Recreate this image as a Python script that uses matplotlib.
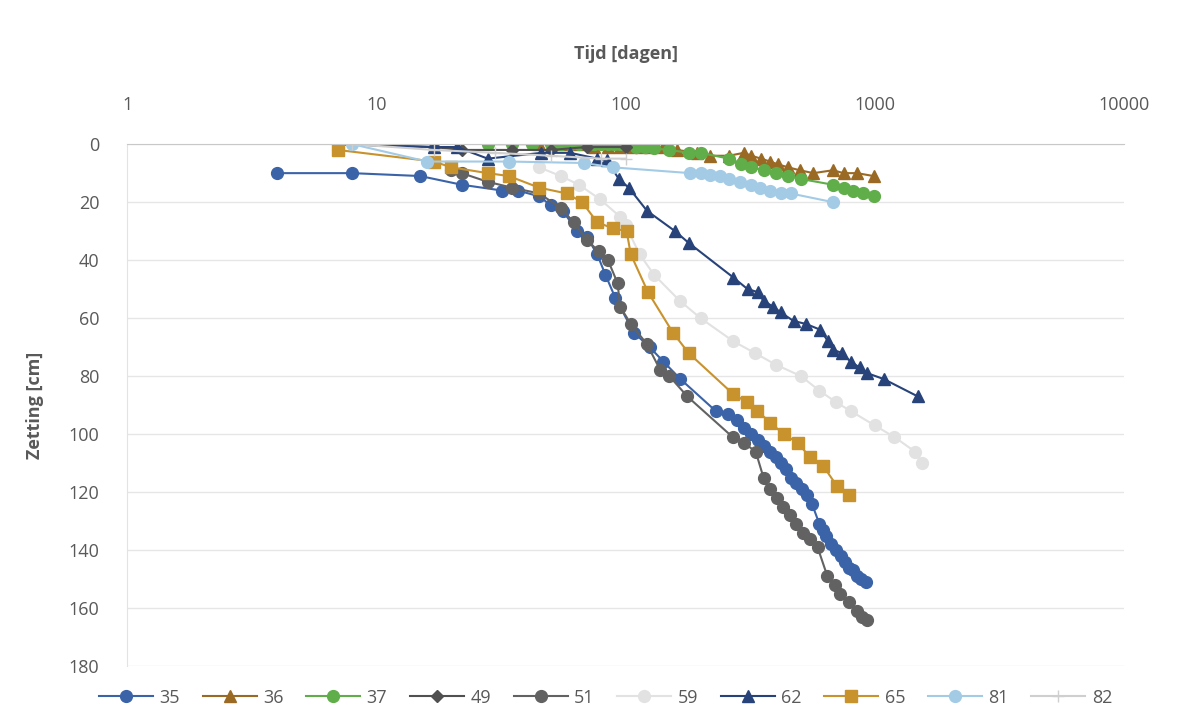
import matplotlib.pyplot as plt
from matplotlib.ticker import FixedLocator, FixedFormatter

plt.rcParams['font.family'] = ['Open Sans', 'DejaVu Sans']

# Zetting [cm] per meetpunt tegen tijd [dagen]
t35 = [4, 8, 15, 22, 32, 37, 45, 50, 56, 64, 70, 77, 83, 91, 108, 125, 142, 166, 230, 257, 280,
       300, 320, 340, 360, 380, 400, 420, 440, 460, 485, 510, 535, 560, 600, 620, 640, 670, 700,
       730, 760, 790, 820, 850, 880, 920]
z35 = [10, 10, 11, 14, 16, 16, 18, 21, 23, 30, 32, 38, 45, 53, 65, 70, 75, 81, 92, 93, 95,
       98, 100, 102, 104, 106, 108, 110, 112, 115, 117, 119, 121, 124, 131, 133, 135, 138, 140,
       142, 144, 146, 147, 149, 150, 151]

t36 = [45, 55, 65, 75, 85, 95, 105, 115, 125, 142, 161, 194, 218, 260, 298, 320, 350, 380, 410,
       450, 500, 568, 680, 750, 850, 990]
z36 = [0, 0, 0, 1, 1, 1, 1, 1, 1, 1, 2, 3, 4, 4, 3, 4, 5, 6, 7, 8, 9, 10, 9, 10, 10, 11]

t37 = [28, 35, 42, 50, 55, 60, 65, 70, 75, 80, 85, 90, 95, 100, 110, 120, 130, 150, 180, 200,
       260, 290, 320, 360, 400, 450, 505, 680, 750, 820, 900, 990]
z37 = [0, 0, 0, 0, 0, 0, 0, 0, 0, 0, 0, 0, 0, 0, 1, 1, 1.5, 2, 3, 3, 5, 7, 8, 9, 10, 11, 12,
       14, 15, 16, 17, 18]

t49 = [7, 17, 22, 35, 50, 70, 100]
z49 = [0, 1, 2, 2, 2, 1, 1]

t51 = [20, 22, 28, 35, 45, 55, 62, 70, 78, 85, 93, 95, 105, 122, 138, 150, 177, 269, 298, 333,
       358, 380, 407, 430, 457, 485, 518, 550, 590, 646, 690, 727, 790, 850, 890, 935]
z51 = [9, 10, 13, 15, 17, 22, 27, 33, 37, 40, 48, 56, 62, 69, 78, 80, 87, 101, 103, 106, 115,
       119, 122, 125, 128, 131, 134, 136, 139, 149, 152, 155, 158, 161, 163, 164]

t59 = [45, 55, 65, 79, 95, 100, 114, 130, 165, 200, 271, 330, 400, 506, 600, 700, 800, 1000,
       1200, 1450, 1550]
z59 = [8, 11, 14, 19, 25, 28, 38, 45, 54, 60, 68, 72, 76, 80, 85, 89, 92, 97, 101, 106, 110]

t62 = [7, 17, 21, 28, 46, 60, 77, 84, 94, 103, 122, 158, 179, 271, 309, 339, 358, 390, 419, 473,
       530, 605, 650, 683, 740, 800, 870, 935, 1087, 1490]
z62 = [0, 1, 1, 5, 3, 3, 5, 5.5, 12, 15, 23, 30, 34, 46, 50, 51, 54, 56, 58, 61, 62, 64, 68,
       71, 72, 75, 77, 79, 81, 87]

t65 = [7, 17, 20, 28, 34, 45, 58, 67, 77, 89, 101, 105, 123, 155, 179, 269, 307, 338, 381, 431,
       491, 551, 622, 707, 790]
z65 = [2, 6, 8, 10, 11, 15, 17, 20, 27, 29, 30, 38, 51, 65, 72, 86, 89, 92, 96, 100, 103, 108,
       111, 118, 121]

t81 = [8, 16, 34, 68, 89, 182, 200, 218, 240, 260, 289, 320, 348, 380, 419, 460, 680]
z81 = [0, 6, 6, 6.5, 8, 10, 10, 10.5, 11, 12, 13, 14, 15, 16, 17, 17, 20]

t82 = [8, 17, 30, 50, 80, 100]
z82 = [0, 2, 3, 4, 5, 5]

series = [
    ('35', t35, z35, '#3B63A8', 'o'),
    ('36', t36, z36, '#9A6A24', '^'),
    ('37', t37, z37, '#5FAE4A', 'o'),
    ('49', t49, z49, '#505050', 'D'),
    ('51', t51, z51, '#626262', 'o'),
    ('59', t59, z59, '#E2E2E2', 'o'),
    ('62', t62, z62, '#27437A', '^'),
    ('65', t65, z65, '#C8922C', 's'),
    ('81', t81, z81, '#A3CBE6', 'o'),
    ('82', t82, z82, '#CFCFCF', '+'),
]

fig = plt.figure(figsize=(11.78, 7.28), dpi=100)
ax = fig.add_axes([0.108, 0.085, 0.846, 0.717])

for name, t, z, col, mk in series:
    ms = {'D': 6, 's': 8, '+': 9}.get(mk, 8.5)
    ax.plot(t, z, color=col, marker=mk, markersize=ms, linewidth=1.5,
            markeredgecolor=col, label=name)

ax.set_xscale('log')
ax.set_xlim(1, 10000)
ax.set_ylim(180, 0)
ax.xaxis.set_major_locator(FixedLocator([1, 10, 100, 1000, 10000]))
ax.xaxis.set_major_formatter(FixedFormatter(['1', '10', '100', '1000', '10000']))
ax.xaxis.set_minor_locator(FixedLocator([]))
ax.xaxis.tick_top()
ax.xaxis.set_label_position('top')
ax.set_yticks(range(0, 181, 20))

ax.grid(axis='y', color='#E6E6E6', linewidth=1)
ax.set_axisbelow(True)
ax.tick_params(length=0, labelsize=13, labelcolor='#595959')
ax.tick_params(axis='x', pad=22)
ax.tick_params(axis='y', pad=20)
for side in ['right', 'bottom']:
    ax.spines[side].set_visible(False)
ax.spines['top'].set_color('#C8C8C8')
ax.spines['left'].set_color('#E3E3E3')

ax.set_xlabel('Tijd [dagen]', fontsize=13, fontweight='bold', color='#595959', labelpad=26)
ax.set_ylabel('Zetting [cm]', fontsize=13, fontweight='bold', color='#595959', labelpad=18)

leg = ax.legend(loc='upper center', bbox_to_anchor=(0.48, -0.012), ncol=10, frameon=False,
                fontsize=13, handlelength=3.0, columnspacing=1.25, handletextpad=0.35)
for txt in leg.get_texts():
    txt.set_color('#595959')

fig.savefig('out.png', dpi=100)
